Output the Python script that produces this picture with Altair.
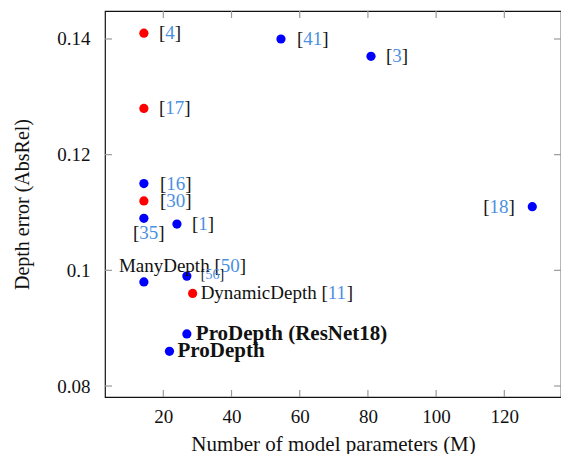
import altair as alt
import pandas as pd

# ---------------- data ----------------
refs   = ["4", "17", "41", "3", "16", "30", "35", "1", "50", "56", "11", "18", "", ""]
names  = ["", "", "", "", "", "", "", "", "ManyDepth ", "", "DynamicDepth ", "",
          "ProDepth (ResNet18)", "ProDepth"]
params = [14.3, 14.3, 54.5, 80.9, 14.3, 14.3, 14.3, 24.0, 14.3, 26.9, 28.6, 128.2, 26.9, 21.8]
absrel = [0.141, 0.128, 0.140, 0.137, 0.115, 0.112, 0.109, 0.108, 0.098, 0.099, 0.096, 0.111,
          0.089, 0.086]
group  = ["red", "red", "blue", "blue", "blue", "red", "blue", "blue", "blue", "blue", "red",
          "blue", "blue", "blue"]
x_ticks = [20, 40, 60, 80, 100, 120]
y_ticks = [0.08, 0.10, 0.12, 0.14]

df = pd.DataFrame({"i": list(range(len(refs))), "ref": refs, "name": names,
                   "params": params, "absrel": absrel, "group": group})

# ---------------- style ----------------
FONT = "Liberation Serif"
FS = 19
W, H = 456, 386
BLACK = "#111111"
LINK = "#4A90E2"
TICK = "#9a9a9a"
TL = 7

# label placement: (start dx, dy, font size) per point index
place = {0: (15, 0, FS), 1: (15, 0, FS), 2: (16, 0, FS), 3: (15, 0, FS), 4: (16, 0, FS),
         5: (16, 0, FS), 6: (-11, 15, FS), 7: (15, 0, FS), 8: (-25, -16, FS),
         9: (14, -1, 14), 10: (8, 0, FS), 11: (-49, 0, FS), 12: (9, 0, FS), 13: (8, 0, FS)}

# Times-like advance widths (1/1000 em)
CW = {" ": 250, "(": 333, ")": 333, "[": 333, "]": 333, "A": 722, "D": 722, "M": 889,
      "N": 722, "P": 556, "R": 667, "a": 444, "b": 500, "c": 444, "d": 500, "e": 444,
      "f": 333, "h": 500, "i": 278, "l": 278, "m": 778, "n": 500, "o": 500, "p": 500,
      "r": 333, "s": 389, "t": 278, "u": 500, "y": 500}


def tw(s, fs):
    return sum(CW.get(c, 500) for c in s) / 1000 * fs


xs = alt.Scale(domain=[2.9, 136.62], nice=False, zero=False)
ys = alt.Scale(domain=[0.0781, 0.14484], nice=False, zero=False)

base = alt.Chart(df)

points = base.mark_circle(size=85, opacity=1).encode(
    x=alt.X("params:Q", scale=xs,
            axis=alt.Axis(values=x_ticks, title="Number of model parameters (M)",
                          ticks=False, domain=False, grid=False, labelPadding=10,
                          titlePadding=7, titleFontSize=21)),
    y=alt.Y("absrel:Q", scale=ys,
            axis=alt.Axis(values=y_ticks, title="Depth error (AbsRel)", format=".2~f",
                          ticks=False, domain=False, grid=False, labelPadding=15,
                          titlePadding=24)),
    color=alt.Color("group:N", scale=alt.Scale(domain=["red", "blue"],
                                               range=["#FF0000", "#0000FF"]), legend=None),
)

layers = []
# tick marks drawn inside the frame on all four sides
tx = pd.DataFrame({"v": x_ticks})
ty = pd.DataFrame({"v": y_ticks})
layers.append(alt.Chart(tx).mark_rule(color=TICK, strokeWidth=1.2).encode(
    x=alt.X("v:Q", scale=xs), y=alt.value(H), y2=alt.value(H - TL)))
layers.append(alt.Chart(tx).mark_rule(color=TICK, strokeWidth=1.2).encode(
    x=alt.X("v:Q", scale=xs), y=alt.value(0), y2=alt.value(TL)))
layers.append(alt.Chart(ty).mark_rule(color=TICK, strokeWidth=1.2).encode(
    y=alt.Y("v:Q", scale=ys), x=alt.value(0), x2=alt.value(TL)))
layers.append(alt.Chart(ty).mark_rule(color=TICK, strokeWidth=1.2).encode(
    y=alt.Y("v:Q", scale=ys), x=alt.value(W), x2=alt.value(W - TL)))
layers.append(points)

for i in range(len(refs)):
    dx0, dy, fs = place[i]
    sub = base.transform_filter(alt.datum.i == i)
    enc = dict(x=alt.X("params:Q", scale=xs), y=alt.Y("absrel:Q", scale=ys))
    if refs[i] == "":
        layers.append(sub.mark_text(align="left", baseline="middle", dx=dx0, dy=dy,
                                    font=FONT, fontSize=21, fontWeight="bold",
                                    color=BLACK).encode(text="name:N", **enc))
        continue
    pre = names[i] + "["
    layers.append(sub.mark_text(align="left", baseline="middle", dx=dx0, dy=dy, font=FONT,
                                fontSize=fs, color=BLACK).encode(
        text=alt.value(pre), **enc))
    d1 = dx0 + tw(pre, fs)
    layers.append(sub.mark_text(align="left", baseline="middle", dx=d1, dy=dy, font=FONT,
                                fontSize=fs, color=LINK).encode(text="ref:N", **enc))
    d2 = d1 + tw(refs[i], fs)
    layers.append(sub.mark_text(align="left", baseline="middle", dx=d2, dy=dy, font=FONT,
                                fontSize=fs, color=BLACK).encode(
        text=alt.value("]"), **enc))

chart = alt.layer(*layers).properties(
    width=W, height=H,
    autosize=alt.AutoSizeParams(type="none"),
    padding={"left": 97, "top": 3, "right": 0, "bottom": 57},
).configure_view(stroke=BLACK, strokeWidth=1.2).configure_axis(
    labelFont=FONT, labelFontSize=FS, labelColor=BLACK,
    titleFont=FONT, titleFontSize=FS + 1, titleColor=BLACK, titleFontWeight="normal",
)

chart.save("out.html", embed_options={"renderer": "svg", "actions": False})
